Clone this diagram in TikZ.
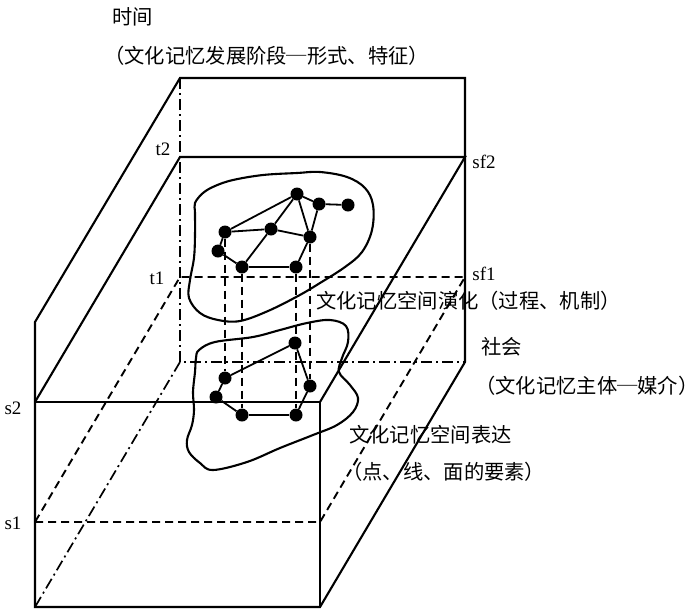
\documentclass[tikz,border=0pt]{standalone}
\usepackage{fontspec}
\setmainfont{Liberation Serif}
\newfontfamily\cjk{Noto Sans CJK SC}
\begin{document}
\begin{tikzpicture}[x=1pt,y=-1pt,
  solidline/.style={line width=2.1pt},
  dashline/.style={line width=1.9pt, dash pattern=on 8pt off 5pt},
  dashdotline/.style={line width=1.7pt, dash pattern=on 11pt off 4pt on 2pt off 4pt},
  netedge/.style={line width=1.8pt},
  blob/.style={line width=2.1pt},
  dot/.style={circle, fill=black, inner sep=0pt, minimum size=13pt},
  cjklabel/.style={font=\cjk\fontsize{20.3}{24}\selectfont, anchor=west, inner sep=0pt},
  latlabel/.style={font=\fontsize{19}{22}\selectfont, inner sep=0pt}
]
\useasboundingbox (0,0) rectangle (700,614);

% box corners
\coordinate (BTL) at (180,78);
\coordinate (BTR) at (465,78);
\coordinate (BBL) at (180,362);
\coordinate (BBR) at (465,362);
\coordinate (T2L) at (180,157);
\coordinate (T2R) at (465,157);
\coordinate (T1L) at (180,277);
\coordinate (T1R) at (465,277);
\coordinate (FUL) at (35,322);
\coordinate (S2L) at (35,402);
\coordinate (S2R) at (320,402);
\coordinate (S1L) at (35,522);
\coordinate (S1R) at (320,522);
\coordinate (FBL) at (35,607);
\coordinate (FBR) at (320,607);

% hidden edges
\draw[dashdotline] (BTL) -- (BBL) -- (BBR);
\draw[dashdotline] (BBL) -- (FBL);
\draw[dashline] (S1L) -- (S1R) -- (T1R) -- (T1L) -- cycle;

% visible edges
\draw[solidline] (FUL) -- (BTL) -- (BTR) -- (BBR) -- (FBR) -- (FBL) -- cycle;
\draw[solidline] (S2L) -- (S2R) -- (FBR);
\draw[solidline] (S2L) -- (T2L) -- (T2R) -- (S2R);

% blobs
\draw[blob] plot[smooth cycle, tension=0.6] coordinates {(195,203) (203,193) (215,186) (233,180) (263,175) (297,173) (320,172) (347,177) (365,188) (373,205) (372,230) (362,252) (345,267) (320,283) (298,296) (268,311) (240,321) (218,320) (200,313) (189,298) (190,280) (194,258) (195,235) (195,213)};
\draw[blob] plot[smooth cycle, tension=0.6] coordinates {(199,350) (215,342) (253,337) (280,330) (307,323) (330,320) (346,326) (348,342) (342,358) (339,372) (350,385) (358,398) (353,412) (337,425) (313,435) (280,448) (247,462) (213,470) (200,463) (189,452) (187,440) (192,425) (194,410) (193,392) (195,372) (196,358)};

% upper network
\node[dot] (A) at (297,194) {};
\node[dot] (B) at (319,204) {};
\node[dot] (C) at (348,205) {};
\node[dot] (D) at (225,232) {};
\node[dot] (E) at (271,229) {};
\node[dot] (F) at (310,237) {};
\node[dot] (G) at (218,251) {};
\node[dot] (H) at (242,267) {};
\node[dot] (I) at (296,267) {};
% lower network
\node[dot] (a) at (295,343) {};
\node[dot] (d) at (225,378) {};
\node[dot] (f) at (310,386) {};
\node[dot] (g) at (216,397) {};
\node[dot] (h) at (242,415) {};
\node[dot] (i) at (296,415) {};

\draw[netedge] (A) -- (B);
\draw[netedge] (B) -- (C);
\draw[netedge] (A) -- (D);
\draw[netedge] (A) -- (E);
\draw[netedge] (A) -- (F);
\draw[netedge] (B) -- (F);
\draw[netedge] (D) -- (E);
\draw[netedge] (E) -- (F);
\draw[netedge] (D) -- (G);
\draw[netedge] (G) -- (H);
\draw[netedge] (E) -- (H);
\draw[netedge] (H) -- (I);
\draw[netedge] (I) -- (F);

\draw[netedge] (a) -- (d);
\draw[netedge] (d) -- (g);
\draw[netedge] (g) -- (h);
\draw[netedge] (h) -- (i);
\draw[netedge] (i) -- (f);
\draw[netedge] (f) -- (a);

\draw[dashline] (D) -- (d);
\draw[dashline] (H) -- (h);
\draw[dashline] (I) -- (i);
\draw[dashline] (F) -- (f);

% labels
\node[cjklabel] (time) at (112,17) {时间};
\node[cjklabel] (timesub) at (104,56) {（文化记忆发展阶段─形式、特征）};
\node[cjklabel] (evol) at (316,301) {文化记忆空间演化（过程、机制）};
\node[cjklabel] (soc) at (481,347) {社会};
\node[cjklabel] (socsub) at (475,386) {（文化记忆主体─媒介）};
\node[cjklabel] (expr) at (349,435) {文化记忆空间表达};
\node[cjklabel] (exprsub) at (342,472) {（点、线、面的要素）};

\node[latlabel] (t2) at (163,149) {t2};
\node[latlabel] (t1) at (157,278) {t1};
\node[latlabel] (sf2) at (484,162) {sf2};
\node[latlabel] (sf1) at (484,274) {sf1};
\node[latlabel] (s2) at (13,408) {s2};
\node[latlabel] (s1) at (13,523) {s1};
\end{tikzpicture}
\end{document}
